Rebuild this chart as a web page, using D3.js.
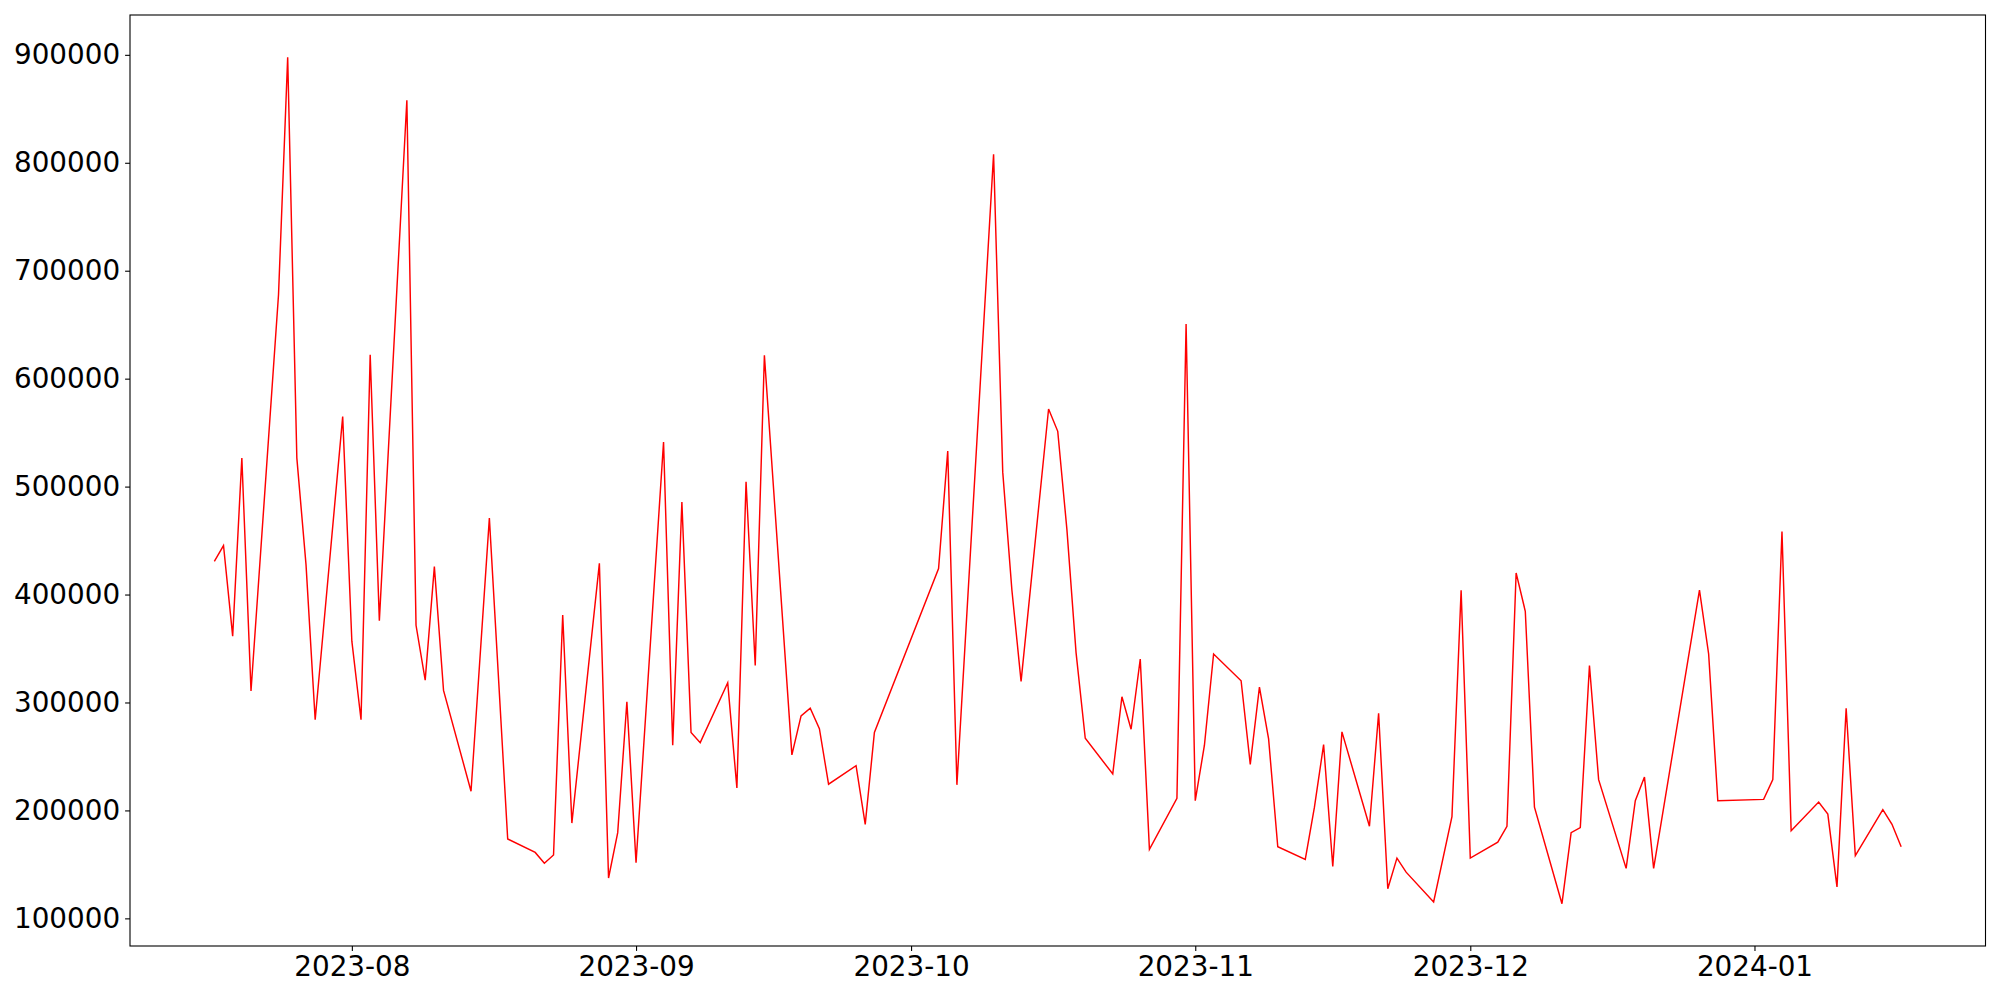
<!DOCTYPE html>
<html>
<head>
<meta charset="utf-8">
<script src="https://cdn.jsdelivr.net/npm/d3@7"></script>
<style>
  html, body { margin: 0; padding: 0; background: #fff; }
  svg { display: block; }
  .axis text { font-family: "DejaVu Sans", sans-serif; font-size: 27.8px; fill: #000; }
  .axis path, .axis line { stroke: #000; stroke-width: 1.1px; }
</style>
</head>
<body>
<svg id="chart" width="2000" height="1000"></svg>
<script>
const dates = [
  "2023-07-17","2023-07-18","2023-07-19","2023-07-20","2023-07-21","2023-07-24","2023-07-25","2023-07-26","2023-07-27","2023-07-28","2023-07-31",
  "2023-08-01","2023-08-02","2023-08-03","2023-08-04","2023-08-07","2023-08-08","2023-08-09","2023-08-10","2023-08-11","2023-08-14","2023-08-16","2023-08-18",
  "2023-08-21","2023-08-22","2023-08-23","2023-08-24","2023-08-25","2023-08-28","2023-08-29","2023-08-30","2023-08-31",
  "2023-09-01","2023-09-04","2023-09-05","2023-09-06","2023-09-07","2023-09-08","2023-09-11","2023-09-12","2023-09-13","2023-09-14","2023-09-15",
  "2023-09-18","2023-09-19","2023-09-20","2023-09-21","2023-09-22","2023-09-25","2023-09-26","2023-09-27",
  "2023-10-04","2023-10-05","2023-10-06","2023-10-10","2023-10-11","2023-10-12","2023-10-13","2023-10-16","2023-10-17","2023-10-18","2023-10-19","2023-10-20",
  "2023-10-23","2023-10-24","2023-10-25","2023-10-26","2023-10-27","2023-10-30","2023-10-31",
  "2023-11-01","2023-11-02","2023-11-03","2023-11-06","2023-11-07","2023-11-08","2023-11-09","2023-11-10","2023-11-13","2023-11-14","2023-11-15","2023-11-16","2023-11-17",
  "2023-11-20","2023-11-21","2023-11-22","2023-11-23","2023-11-24","2023-11-27","2023-11-29","2023-11-30",
  "2023-12-01","2023-12-04","2023-12-05","2023-12-06","2023-12-07","2023-12-08","2023-12-11","2023-12-12","2023-12-13","2023-12-14","2023-12-15",
  "2023-12-18","2023-12-19","2023-12-20","2023-12-21","2023-12-26","2023-12-27","2023-12-28",
  "2024-01-02","2024-01-03","2024-01-04","2024-01-05","2024-01-08","2024-01-09","2024-01-10","2024-01-11","2024-01-12","2024-01-15","2024-01-16","2024-01-17"
];
const values = [
  430700,445400,361500,526400,310700,677700,897700,526400,427700,284000,564800,
  356800,284000,622200,375700,858000,371500,320700,425900,311200,217800,470800,173500,
  161100,151000,158700,381000,188300,428900,137400,179400,300600,
  151600,541200,260400,485600,272200,262800,318300,220800,504500,334300,621600,
  251500,287600,294700,275800,224300,241500,187100,272200,
  424100,532900,223700,807800,513400,404000,319500,571900,551200,460200,346000,266900,
  233800,305300,275200,340200,164000,211300,650600,
  209000,260400,344900,320100,242700,314200,266300,166400,154600,203000,261000,148100,272800,
  185300,290000,127400,155800,142800,115200,194200,404000,
  155800,170600,185300,420000,384500,203000,113600,179400,184100,334300,228500,
  146300,209000,230900,146300,404000,344900,209000,
  210200,228500,458400,181200,207800,196600,129200,294700,158100,200700,187100,166400
];
const yTicks = [100000,200000,300000,400000,500000,600000,700000,800000,900000];
const xTicks = ["2023-08-01","2023-09-01","2023-10-01","2023-11-01","2023-12-01","2024-01-01"];

(function () {
  const parse = d3.utcParse("%Y-%m-%d");
  const data = dates.map((d, i) => ({ date: parse(d), value: values[i] }));

  const mLeft = 130, mRight = 1985.5, mTop = 15, mBottom = 946;
  const svg = d3.select("#chart");

  // matplotlib-style 5% margins
  const xExt = d3.extent(data, d => +d.date);
  const xPad = (xExt[1] - xExt[0]) * 0.05;
  const yExt = d3.extent(data, d => d.value);
  const yPad = (yExt[1] - yExt[0]) * 0.05;

  const x = d3.scaleUtc().domain([new Date(xExt[0] - xPad), new Date(xExt[1] + xPad)]).range([mLeft, mRight]);
  const y = d3.scaleLinear().domain([yExt[0] - yPad, yExt[1] + yPad]).range([mBottom, mTop]);

  const line = d3.line().x(d => x(d.date)).y(d => y(d.value));
  svg.append("path").datum(data)
    .attr("d", line)
    .attr("fill", "none")
    .attr("stroke", "#ff0000")
    .attr("stroke-width", 1.45)
    .attr("stroke-linejoin", "miter");

  svg.append("rect")
    .attr("x", mLeft).attr("y", mTop)
    .attr("width", mRight - mLeft).attr("height", mBottom - mTop)
    .attr("fill", "none").attr("stroke", "#000").attr("stroke-width", 1.1);

  const fmt = d3.utcFormat("%Y-%m");
  svg.append("g").attr("class", "axis")
    .attr("transform", `translate(0,${mBottom})`)
    .call(d3.axisBottom(x).tickValues(xTicks.map(parse)).tickFormat(fmt).tickSize(4.9).tickSizeOuter(0).tickPadding(5))
    .call(g => g.select(".domain").remove());

  svg.append("g").attr("class", "axis")
    .attr("transform", `translate(${mLeft},0)`)
    .call(d3.axisLeft(y).tickValues(yTicks).tickFormat(d3.format("d")).tickSize(4.9).tickSizeOuter(0).tickPadding(5))
    .call(g => g.select(".domain").remove());
})();
</script>
</body>
</html>
